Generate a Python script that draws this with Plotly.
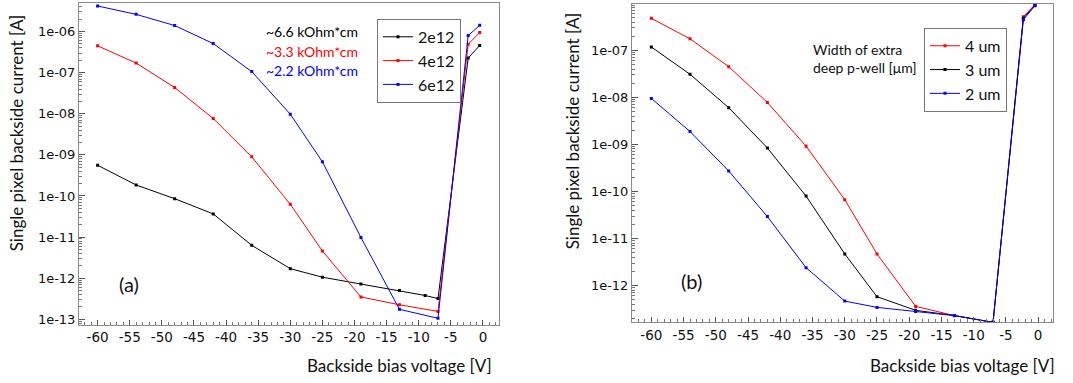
import plotly.graph_objects as go

# ---------------- data ----------------
volt_a_black = [-60, -54, -48, -42, -36, -30, -25, -19, -13, -9, -7, -2.3, -0.5]
cur_2e12 = [5.6e-10, 1.85e-10, 8.6e-11, 3.67e-11, 6.3e-12, 1.71e-12, 1.06e-12, 7.2e-13, 5.0e-13, 3.8e-13, 3.2e-13, 2.27e-7, 4.6e-7]
volt_a = [-60, -54, -48, -42, -36, -30, -25, -19, -13, -7, -2.3, -0.5]
cur_4e12 = [4.5e-7, 1.71e-7, 4.34e-8, 7.7e-9, 8.95e-10, 6.3e-11, 4.6e-12, 3.5e-13, 2.26e-13, 1.56e-13, 4.9e-7, 9.5e-7]
cur_6e12 = [4.18e-6, 2.62e-6, 1.40e-6, 5.1e-7, 1.06e-7, 9.8e-9, 6.8e-10, 9.8e-12, 1.75e-13, 1.06e-13, 8.0e-7, 1.42e-6]

volt_b = [-60, -54, -48, -42, -36, -30, -25, -19, -13, -7, -2.3, -0.5]
cur_4um = [4.8e-7, 1.76e-7, 4.5e-8, 7.8e-9, 9.2e-10, 6.7e-11, 4.7e-12, 3.6e-13, 2.3e-13, 1.65e-13, 5.2e-7, 9.4e-7]
cur_3um = [1.18e-7, 3.1e-8, 6.05e-9, 8.4e-10, 7.96e-11, 4.7e-12, 5.8e-13, 2.97e-13, 2.3e-13, 1.65e-13, 4.8e-7, 9.1e-7]
cur_2um = [9.5e-9, 1.88e-9, 2.73e-10, 2.92e-11, 2.4e-12, 4.67e-13, 3.43e-13, 2.82e-13, 2.29e-13, 1.65e-13, 4.45e-7, 8.9e-7]

names_a = ["2e12", "4e12", "6e12"]
resist_labels = ["~6.6 kOhm*cm", "~3.3 kOhm*cm", "~2.2 kOhm*cm"]
names_b = ["4 um", "3 um", "2 um"]

x_major = list(range(-60, 1, 5))
x_major_text = [str(v) for v in x_major]
y_major = [10.0 ** e for e in range(-13, -5)]
y_major_text = ["1e-%02d" % (-e) for e in range(-13, -5)]
y_minor = [k * 10.0 ** e for e in range(-14, -5) for k in range(2, 10)]

BLACK, RED, BLUE = "#000000", "#ff0000", "#0000ff"
TITLE_FONT = "Lato"
TICK_FONT = "DejaVu Sans"

fig = go.Figure()

def add(x, y, name, color, xa, ya, legend):
    fig.add_trace(go.Scatter(
        x=x, y=y, name=name, mode="lines+markers",
        line=dict(color=color, width=1),
        marker=dict(color=color, size=3, symbol="square"),
        xaxis=xa, yaxis=ya, legend=legend))

add(volt_a_black, cur_2e12, names_a[0], BLACK, "x", "y", "legend")
add(volt_a, cur_4e12, names_a[1], RED, "x", "y", "legend")
add(volt_a, cur_6e12, names_a[2], BLUE, "x", "y", "legend")
add(volt_b, cur_4um, names_b[0], RED, "x2", "y2", "legend2")
add(volt_b, cur_3um, names_b[1], BLACK, "x2", "y2", "legend2")
add(volt_b, cur_2um, names_b[2], BLUE, "x2", "y2", "legend2")

W, H = 1073, 383

def xaxis(domain, rng, anchor):
    return dict(domain=domain, range=rng, anchor=anchor,
                showline=True, linecolor="#8a8a8a", linewidth=1, mirror=True,
                showgrid=False, zeroline=False,
                ticks="inside", ticklen=5, tickcolor="#555", tickwidth=1,
                tickmode="array", tickvals=x_major, ticktext=x_major_text,
                minor=dict(ticks="inside", ticklen=3, tickcolor="#777", dtick=1, tick0=0),
                tickfont=dict(family=TICK_FONT, size=13.5, color="#111"))

def yaxis(domain, rng, anchor):
    return dict(domain=domain, type="log", range=rng, anchor=anchor,
                showline=True, linecolor="#8a8a8a", linewidth=1, mirror=True,
                showgrid=False, zeroline=False,
                ticks="inside", ticklen=6, tickcolor="#555", tickwidth=1,
                tickmode="array", tickvals=y_major, ticktext=y_major_text,
                minor=dict(ticks="inside", ticklen=3, tickcolor="#777",
                           tickmode="array", tickvals=y_minor),
                tickfont=dict(family=TICK_FONT, size=13, color="#111"))

fig.update_layout(
    width=W, height=H,
    margin=dict(l=0, r=0, t=0, b=0),
    paper_bgcolor="white", plot_bgcolor="white",
    xaxis=xaxis([79 / W, 499 / W], [-62.9, 2.5], "y"),
    yaxis=yaxis([1 - 327 / H, 1 - 3 / H], [-13.145, -5.305], "x"),
    xaxis2=xaxis([632 / W, 1053 / W], [-63.0, 2.3], "y2"),
    yaxis2=yaxis([1 - 324 / H, 1 - 4 / H], [-12.782, -6.014], "x2"),
    legend=dict(x=377 / W, y=1 - 19 / H, xanchor="left", yanchor="top",
                bordercolor="#777", borderwidth=1, bgcolor="white",
                font=dict(family=TITLE_FONT, size=16, color="#111"),
                itemwidth=30, tracegroupgap=0),
    legend2=dict(x=924 / W, y=1 - 28 / H, xanchor="left", yanchor="top",
                 bordercolor="#777", borderwidth=1, bgcolor="white",
                 font=dict(family=TITLE_FONT, size=16, color="#111"),
                 itemwidth=30, tracegroupgap=0),
    showlegend=True,
)

ann = []
# axis titles
ann.append(dict(text="Single pixel backside current [A]", x=16 / W, y=1 - 134 / H,
                textangle=-90, font=dict(family=TITLE_FONT, size=17, color="#111")))
ann.append(dict(text="Single pixel backside current [A]", x=572 / W, y=1 - 132 / H,
                textangle=-90, font=dict(family=TITLE_FONT, size=17, color="#111")))
ann.append(dict(text="Backside bias voltage [V]", x=494 / W, y=1 - 367 / H, xanchor="right",
                font=dict(family=TITLE_FONT, size=17, color="#111")))
ann.append(dict(text="Backside bias voltage [V]", x=1057 / W, y=1 - 367 / H, xanchor="right",
                font=dict(family=TITLE_FONT, size=17, color="#111")))
# panel labels
ann.append(dict(text="(a)", x=129 / W, y=1 - 285 / H, font=dict(family=TITLE_FONT, size=20, color="#111")))
ann.append(dict(text="(b)", x=691 / W, y=1 - 282 / H, font=dict(family=TITLE_FONT, size=20, color="#111")))
# resistivity labels
for i, (t, c) in enumerate(zip(resist_labels, [BLACK, RED, BLUE])):
    ann.append(dict(text=t, x=360 / W, y=1 - (31.5 + 19.8 * i) / H, xanchor="right",
                    font=dict(family=TITLE_FONT, size=14, color=c)))
ann.append(dict(text="Width of extra<br>deep p-well [μm]", x=811 / W, y=1 - 59 / H,
                xanchor="left", align="left",
                font=dict(family=TITLE_FONT, size=14, color="#111")))

for a in ann:
    a.update(xref="paper", yref="paper", showarrow=False)
    a.setdefault("xanchor", "center")
    a.setdefault("yanchor", "middle")
fig.update_layout(annotations=ann)

fig.write_html("out.html")
